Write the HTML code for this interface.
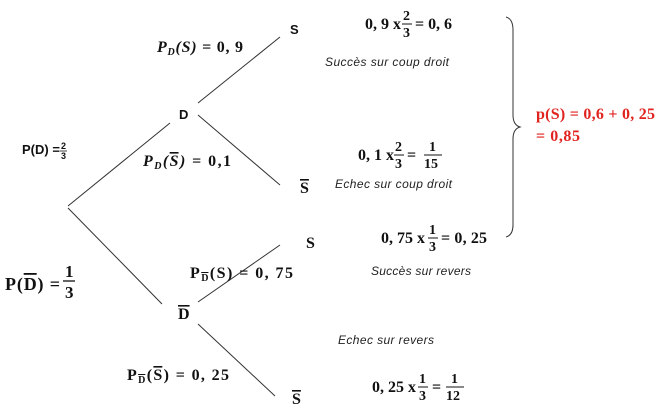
<!DOCTYPE html>
<html><head><meta charset="utf-8"><style>
html,body{margin:0;padding:0;background:#fff;}
svg{display:block}
.m{font-family:"Liberation Serif",serif;font-weight:bold;font-size:16px;fill:#111}
.mi{font-family:"Liberation Serif",serif;font-weight:bold;font-style:italic;font-size:16px;fill:#111}
.f{font-family:"Liberation Serif",serif;font-weight:bold;font-size:14px;fill:#111}
.n{font-family:"Liberation Sans",sans-serif;font-weight:bold;font-size:13px;fill:#111}
.it{font-family:"Liberation Sans",sans-serif;font-style:italic;font-size:12px;fill:#222}
.r{font-family:"Liberation Serif",serif;font-weight:bold;font-size:16px;fill:#e0231f}
.ov{text-decoration:overline}
</style></head><body>
<svg width="668" height="408" viewBox="0 0 668 408" xmlns="http://www.w3.org/2000/svg">
<g stroke="#333" stroke-width="1" fill="none">
<line x1="68" y1="206" x2="170" y2="123"/>
<line x1="68" y1="208" x2="162" y2="304"/>
<line x1="198" y1="103" x2="280" y2="37"/>
<line x1="198" y1="115" x2="280" y2="185"/>
<line x1="198" y1="302" x2="280" y2="245"/>
<line x1="198" y1="324" x2="275" y2="396"/>
<path d="M506,17 Q513,19 513,30 L513,115 Q513,125 520,127 Q513,129 513,139 L513,225 Q513,235 506,237"/>
</g>
<!-- node labels -->
<text class="n" x="290" y="34">S</text>
<text class="n" x="179" y="119">D</text>
<text class="m" x="300" y="193"><tspan class="ov">S</tspan></text>
<text class="m" x="306" y="248">S</text>
<text class="m" x="178" y="319"><tspan class="ov">D</tspan></text>
<text class="m" x="292" y="404"><tspan class="ov">S</tspan></text>

<!-- P(D) = 2/3 -->
<text class="n" x="22" y="154">P(D) =</text>
<text class="n" x="61" y="149" style="font-size:9px">2</text>
<line x1="60" y1="151" x2="67" y2="151" stroke="#111" stroke-width="0.8"/>
<text class="n" x="61" y="159" style="font-size:9px">3</text>

<!-- P(Dbar) = 1/3 -->
<text class="m" x="5" y="290" style="font-size:18px" textLength="55" lengthAdjust="spacing">P(<tspan class="ov">D</tspan>) =</text>
<text class="m" x="65" y="277" style="font-size:17px">1</text>
<line x1="63" y1="281" x2="75" y2="281" stroke="#111" stroke-width="1.3"/>
<text class="m" x="65" y="298" style="font-size:17px">3</text>

<!-- P_D(S) = 0,9 -->
<text class="mi" x="157" y="52" textLength="86" lengthAdjust="spacing">P<tspan style="font-size:10px" dy="3">D</tspan><tspan dy="-3">(S) </tspan><tspan style="font-style:normal">= 0, 9</tspan></text>
<!-- P_D(Sbar) = 0,1 -->
<text class="mi" x="143" y="166" textLength="88" lengthAdjust="spacing">P<tspan style="font-size:10px" dy="3">D</tspan><tspan dy="-3">(</tspan><tspan class="ov">S</tspan>) <tspan style="font-style:normal">= 0,1</tspan></text>
<!-- P_Dbar(S) = 0,75 -->
<text class="m" x="190" y="278" textLength="103" lengthAdjust="spacing">P<tspan style="font-size:10px" dy="3" class="ov">D</tspan><tspan dy="-3">(S) = 0, 75</tspan></text>
<!-- P_Dbar(Sbar) = 0,25 -->
<text class="m" x="127" y="380" textLength="102" lengthAdjust="spacing">P<tspan style="font-size:10px" dy="3" class="ov">D</tspan><tspan dy="-3">(</tspan><tspan class="ov">S</tspan>) = 0, 25</text>

<!-- calculations -->
<text class="m" x="365" y="29">0, 9 x</text>
<text class="f" x="403" y="20">2</text><line x1="402" y1="24" x2="412" y2="24" stroke="#111"/><text class="f" x="403" y="37">3</text>
<text class="m" x="415" y="29" textLength="37" lengthAdjust="spacing">= 0, 6</text>

<text class="it" x="325" y="66" textLength="124" lengthAdjust="spacing">Succès sur coup droit</text>

<text class="m" x="358" y="160">0, 1 x</text>
<text class="f" x="395" y="151">2</text><line x1="394" y1="155" x2="404" y2="155" stroke="#111"/><text class="f" x="395" y="168">3</text>
<text class="m" x="407" y="160">=</text>
<text class="f" x="429" y="151">1</text><line x1="424" y1="155" x2="442" y2="155" stroke="#111"/><text class="f" x="424" y="168">15</text>

<text class="it" x="335" y="188" textLength="117" lengthAdjust="spacing">Echec sur coup droit</text>

<text class="m" x="381" y="243">0, 75 x</text>
<text class="f" x="429" y="234">1</text><line x1="428" y1="238" x2="438" y2="238" stroke="#111"/><text class="f" x="429" y="251">3</text>
<text class="m" x="441" y="243" textLength="46" lengthAdjust="spacing">= 0, 25</text>

<text class="it" x="371" y="275" textLength="100" lengthAdjust="spacing">Succès sur revers</text>
<text class="it" x="338" y="344" textLength="96" lengthAdjust="spacing">Echec sur revers</text>

<text class="m" x="372" y="392">0, 25 x</text>
<text class="f" x="419" y="383">1</text><line x1="418" y1="387" x2="428" y2="387" stroke="#111"/><text class="f" x="419" y="400">3</text>
<text class="m" x="432" y="392">=</text>
<text class="f" x="451" y="383">1</text><line x1="446" y1="387" x2="464" y2="387" stroke="#111"/><text class="f" x="446" y="400">12</text>

<!-- red result -->
<text class="r" x="536" y="119" textLength="119" lengthAdjust="spacing">p(S) = 0,6 + 0, 25</text>
<text class="r" x="536" y="141" textLength="44" lengthAdjust="spacing">= 0,85</text>
</svg>
</body></html>
